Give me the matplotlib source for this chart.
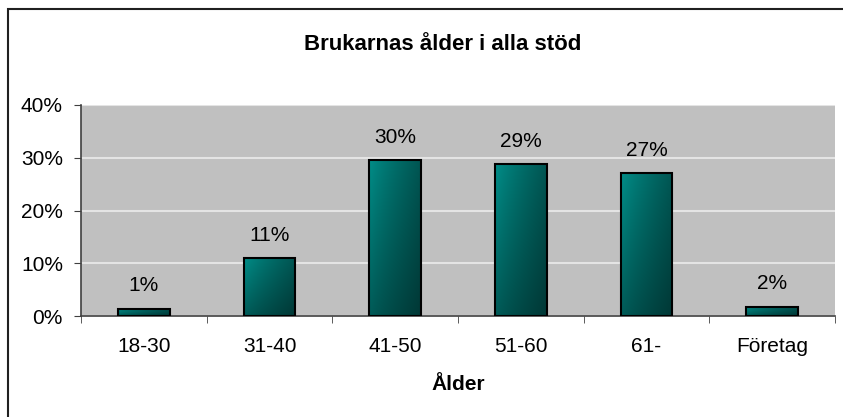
import matplotlib
matplotlib.use('Agg')
import matplotlib.pyplot as plt
import numpy as np
from matplotlib.patches import Rectangle

plt.rcParams['font.family'] = ['Liberation Sans', 'DejaVu Sans']

categories = ['18-30', '31-40', '41-50', '51-60', '61-', 'Företag']
values = [1.4, 11.0, 29.6, 28.8, 27.1, 1.8]
labels = ['1%', '11%', '30%', '29%', '27%', '2%']
yticks = [0, 10, 20, 30, 40]

fs = 15

fig = plt.figure(figsize=(8.43, 4.17), dpi=100)
fig.patch.set_facecolor('white')
# outer frame (only top/left visible in the crop)
fig.patches.append(Rectangle((8 / 843, -0.1), 1.2, (417 - 9) / 417 + 0.1,
                             transform=fig.transFigure, fill=False,
                             edgecolor='#202020', linewidth=1.5))

ax = fig.add_axes([81 / 843, (417 - 316) / 417, (835 - 81) / 843, (316 - 105) / 417])
ax.set_facecolor('#c0c0c0')
x = np.arange(len(categories))
bars = ax.bar(x, values, width=0.41, color='none', edgecolor='black',
              linewidth=1.5, zorder=3)

# teal gradient inside each bar
gx = np.linspace(0, 1, 60)
gy = np.linspace(0, 1, 60)
GX, GY = np.meshgrid(gx, gy)
shade = (1 - 0.4 * GX ** 0.8) * (0.65 + 0.35 * GY)
base = np.array([0.0, 0.56, 0.54])
img = np.clip(shade[..., None] * base[None, None, :], 0, 1)
for b in bars:
    x0, w, h = b.get_x(), b.get_width(), b.get_height()
    im = ax.imshow(img, extent=[x0, x0 + w, 0, h], origin='lower',
                   aspect='auto', zorder=2, interpolation='bilinear')
    im.set_clip_path(b)

for xi, v, lab in zip(x, values, labels):
    ax.text(xi, v + 2.5, lab, ha='center', va='bottom', fontsize=fs)

ax.set_xlim(-0.5, len(categories) - 0.5)
ax.set_ylim(0, 40)
ax.set_yticks(yticks)
ax.set_yticklabels(['%d%%' % t for t in yticks], fontsize=fs)
ax.yaxis.grid(True, color='#e4e4e4', linewidth=1.5, zorder=1)
ax.set_axisbelow(True)

ax.set_xticks(x)
ax.set_xticklabels(categories, fontsize=fs)
ax.tick_params(axis='x', length=0, pad=15)
ax.set_xticks(np.arange(-0.5, len(categories)), minor=True)
ax.tick_params(axis='x', which='minor', length=5, color='#404040', direction='out')
ax.tick_params(axis='y', length=5, color='#404040', direction='out', pad=8)

for s in ['top', 'right']:
    ax.spines[s].set_visible(False)
for s in ['left', 'bottom']:
    ax.spines[s].set_color('#404040')
    ax.spines[s].set_linewidth(1.2)

ax.set_xlabel('Ålder', fontsize=fs, fontweight='bold', labelpad=14)
fig.text(443 / 843, 1 - 44 / 417, 'Brukarnas ålder i alla stöd', ha='center',
         va='center', fontsize=16, fontweight='bold')

fig.savefig('out.png', dpi=100)
